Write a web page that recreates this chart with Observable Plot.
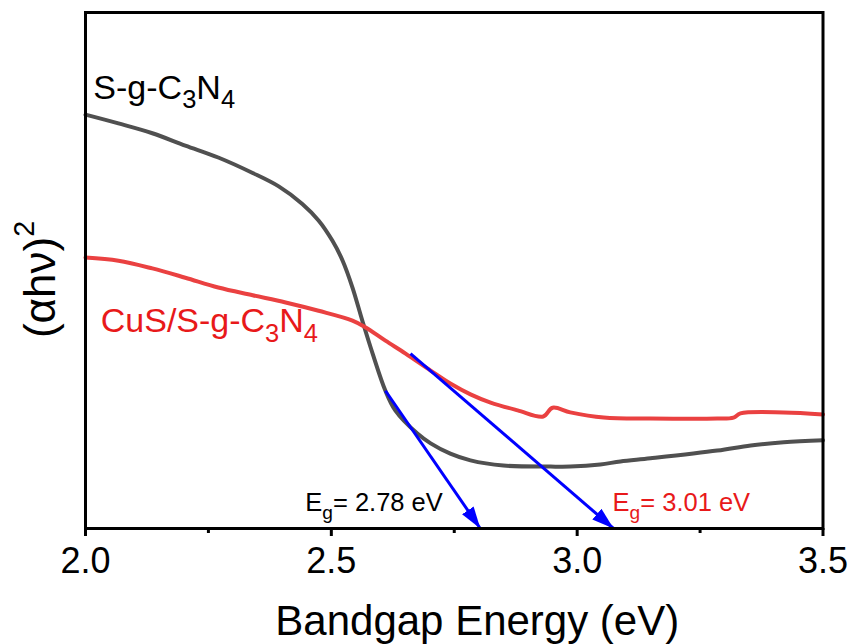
<!DOCTYPE html>
<html>
<head>
<meta charset="utf-8">
<script src="https://cdn.jsdelivr.net/npm/d3@7"></script>
<script src="https://cdn.jsdelivr.net/npm/@observablehq/plot@0.6"></script>
<style>
  html, body { margin: 0; padding: 0; background: #fff; }
  svg { display: block; }
</style>
</head>
<body>
<div id="chart"></div>
<script>
// ---- Data (energy in eV, (αhν)^2 in arbitrary units) ----
const energyGray = [2.000, 2.067, 2.136, 2.203, 2.270, 2.340, 2.393, 2.441, 2.474, 2.502, 2.523, 2.543, 2.563, 2.584, 2.610, 2.630, 2.675, 2.702, 2.742, 2.783, 2.850, 2.946, 2.986, 3.047, 3.088, 3.149, 3.285, 3.353, 3.420, 3.500];
const valueGray  = [80.2, 78.5, 76.6, 74.2, 71.9, 68.9, 66.3, 62.9, 59.7, 55.8, 51.9, 46.7, 40.3, 33.9, 26.7, 22.9, 18.4, 16.5, 14.5, 13.2, 12.2, 12.0, 12.0, 12.4, 13.0, 13.6, 15.1, 16.1, 16.7, 17.1];

const energyRed = [2.000, 2.067, 2.136, 2.203, 2.270, 2.340, 2.407, 2.474, 2.543, 2.569, 2.610, 2.651, 2.702, 2.742, 2.783, 2.824, 2.879, 2.931, 2.950, 2.986, 3.054, 3.149, 3.285, 3.318, 3.332, 3.420, 3.500];
const valueRed  = [52.5, 51.9, 50.4, 48.6, 46.7, 45.2, 43.8, 42.2, 40.3, 39.0, 36.4, 33.9, 30.6, 28.1, 26.0, 24.4, 22.9, 21.7, 23.4, 22.5, 21.5, 21.3, 21.3, 21.5, 22.3, 22.5, 22.1];

// Tangent-line arrows (start on curve -> intercept at baseline)
const arrowX1 = [2.610, 2.661];
const arrowY1 = [26.7, 33.9];
const arrowX2 = [2.803, 3.074];
const arrowY2 = [0, 0];

// Annotations ("_x" = subscript, "^x" = superscript)
const labelText  = ["S-g-C_3N_4", "CuS/S-g-C_3N_4", "E_g= 2.78 eV", "E_g= 3.01 eV"];
const labelX     = [2.016, 2.031, 2.447, 3.072];
const labelY     = [83.3, 38.0, 3.3, 3.3];
const labelColor = ["black", "#e8191a", "black", "#e8191a"];
const labelSize  = [34, 34, 25.5, 25.5];

const majorTicks = [2.0, 2.5, 3.0, 3.5];
const minorTicks = [2.25, 2.75, 3.25];
const xLabel = "Bandgap Energy (eV)";
const yLabel = "(αhν)^2";

// ---- Build tables ----
const gray = energyGray.map((e, i) => ({e, v: valueGray[i]}));
const red = energyRed.map((e, i) => ({e, v: valueRed[i]}));
const arrows = arrowX1.map((x, i) => ({x1: x, y1: arrowY1[i], x2: arrowX2[i], y2: arrowY2[i]}));
const labels = labelText.map((t, i) => ({t, x: labelX[i], y: labelY[i], c: labelColor[i], s: labelSize[i]}));

function filledArrow(color, context) {
  const doc = (context && context.document) || document;
  const ns = "http://www.w3.org/2000/svg";
  const m = doc.createElementNS(ns, "marker");
  m.setAttribute("viewBox", "-22 -8 24 16");
  m.setAttribute("markerWidth", "24");
  m.setAttribute("markerHeight", "16");
  m.setAttribute("refX", "0");
  m.setAttribute("refY", "0");
  m.setAttribute("orient", "auto");
  m.setAttribute("markerUnits", "userSpaceOnUse");
  const p = doc.createElementNS(ns, "path");
  p.setAttribute("d", "M-22,-7L0,0L-22,7Z");
  p.setAttribute("fill", color);
  p.setAttribute("stroke", "none");
  m.appendChild(p);
  return m;
}

function build(marker) {
  const labelMarks = labels.map(d => Plot.text([d], {
    x: "x", y: "y", text: "t", fill: d.c, fontSize: d.s,
    textAnchor: "start", lineAnchor: "bottom"
  }));
  return Plot.plot({
    width: 853,
    height: 644,
    marginLeft: 85,
    marginRight: 30.5,
    marginTop: 12,
    marginBottom: 116,
    style: {fontFamily: "'Liberation Sans', Arial, sans-serif", color: "black", background: "white", overflow: "visible"},
    x: {domain: [2, 3.5], axis: null},
    y: {domain: [0, 100], axis: null},
    marks: [
      Plot.line(gray, {x: "e", y: "v", stroke: "#505050", strokeWidth: 4, curve: "catmull-rom"}),
      Plot.line(red, {x: "e", y: "v", stroke: "#ea4141", strokeWidth: 4, curve: "catmull-rom"}),
      Plot.link(arrows, {x1: "x1", y1: "y1", x2: "x2", y2: "y2", stroke: "#0000ff", strokeWidth: 3, markerEnd: marker}),
      Plot.frame({stroke: "black", strokeWidth: 3}),
      Plot.axisX({ticks: majorTicks, tickSize: 8, tickPadding: 11, fontSize: 36, strokeWidth: 3, label: null, tickFormat: d => d.toFixed(1)}),
      Plot.axisX({ticks: minorTicks, tickSize: 5, strokeWidth: 3, label: null, tickFormat: () => ""}),
      ...labelMarks,
      Plot.text([xLabel], {frameAnchor: "bottom", text: d => d, fontSize: 42, textAnchor: "middle", lineAnchor: "bottom", dx: 23, dy: 106}),
      Plot.text([yLabel], {frameAnchor: "left", text: d => d, fontSize: 44, rotate: -90, textAnchor: "middle", lineAnchor: "middle", dx: -45, dy: 9})
    ]
  });
}

let chart;
try { chart = build(filledArrow); } catch (err) { chart = build("arrow"); }

// Convert "_x" / "^x" notation into sub/superscript tspans
const NS = "http://www.w3.org/2000/svg";
chart.querySelectorAll("text").forEach(t => {
  const s = t.textContent;
  if (!/[_^]/.test(s)) return;
  t.textContent = "";
  const parts = s.split(/([_^].)/).filter(p => p.length);
  let back = null;
  for (const p of parts) {
    const ts = document.createElementNS(NS, "tspan");
    if (p[0] === "_") {
      ts.textContent = p[1];
      ts.setAttribute("font-size", "75%");
      ts.setAttribute("dy", "0.37em");
      back = "-0.28em";
    } else if (p[0] === "^") {
      ts.textContent = p[1];
      ts.setAttribute("font-size", "65%");
      ts.setAttribute("dy", "-0.72em");
      back = "0.47em";
    } else {
      ts.textContent = p;
      if (back) { ts.setAttribute("dy", back); back = null; }
    }
    t.appendChild(ts);
  }
});

document.getElementById("chart").appendChild(chart);
</script>
</body>
</html>
